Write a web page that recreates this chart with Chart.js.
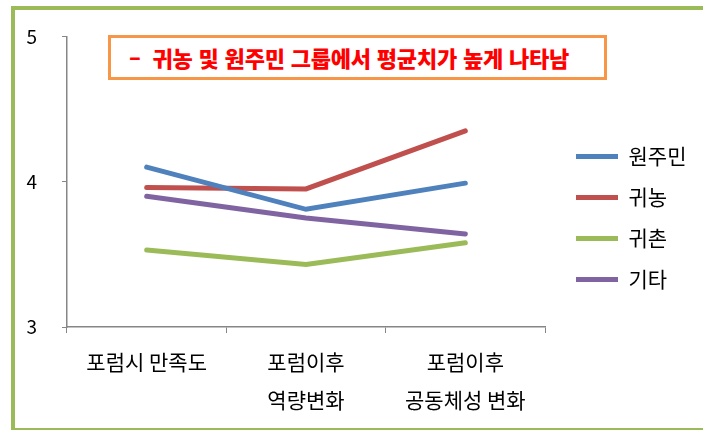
<!DOCTYPE html>
<html lang="ko">
<head>
<meta charset="utf-8">
<script src="https://cdn.jsdelivr.net/npm/chart.js@4"></script>
<style>
    html, body { margin: 0; padding: 0; background: #fff; }
    #wrap { position: relative; width: 703px; height: 430px; overflow: hidden; font-family: "Noto Sans CJK KR", sans-serif; }
    #frame { position: absolute; left: 11px; top: 6px; width: 760px; height: 426px; border: 4px solid #9BBB59; box-sizing: border-box; }
    #chart { position: absolute; left: 0; top: 0; }
    #note {
        position: absolute; left: 108px; top: 35px; width: 499px; height: 45px;
        box-sizing: border-box; border: 3px solid #F79646; background: #fff;
        color: #FF0000; font-weight: 900; font-size: 22px; line-height: 38px;
        padding-left: 18px; letter-spacing: -0.2px; white-space: nowrap;
    }
</style>
</head>
<body>
<div id="wrap">
    <div id="frame"></div>
    <canvas id="chart" width="703" height="430"></canvas>
    <div id="note">–&nbsp; 귀농 및 원주민 그룹에서 평균치가 높게 나타남</div>
</div>
<script>
const categories = ["포럼시 만족도", ["포럼이후", "역량변화"], ["포럼이후", "공동체성 변화"]];
const seriesNames = ["원주민", "귀농", "귀촌", "기타"];
const nativeValues = [4.10, 3.81, 3.99];
const returnFarmValues = [3.96, 3.95, 4.35];
const returnRuralValues = [3.53, 3.43, 3.58];
const otherValues = [3.90, 3.75, 3.64];
const seriesColors = ["#4F81BD", "#C0504D", "#9BBB59", "#8064A2"];
const yTicks = [3, 4, 5];

document.addEventListener("DOMContentLoaded", function () {
    drawChart();
});

/* Keeps the legend a fixed width and nudges it right of the plot area. */
const legendPlacement = {
    id: "legendPlacement",
    beforeUpdate(chart) {
        const legend = chart.legend;
        if (!legend || legend._fixedFit) return;
        const fit = legend.fit;
        legend.fit = function () {
            fit.call(this);
            this.width = 158;
        };
        legend._fixedFit = true;
    },
    afterLayout(chart) {
        chart.legend.left += 11;
    },
};

/* Builds the line chart with the legend on the right. */
function drawChart() {
    const ctx = document.getElementById("chart").getContext("2d");
    const values = [nativeValues, returnFarmValues, returnRuralValues, otherValues];
    const axisColor = "#868686";
    const font = { family: "'Noto Sans CJK KR', sans-serif", size: 21 };

    new Chart(ctx, {
        type: "line",
        data: {
            labels: categories,
            datasets: seriesNames.map((name, i) => ({
                label: name,
                data: values[i],
                borderColor: seriesColors[i],
                backgroundColor: seriesColors[i],
                borderWidth: 5,
                borderCapStyle: "round",
                pointRadius: 0,
                pointStyle: "line",
                tension: 0,
            })),
        },
        plugins: [legendPlacement],
        options: {
            responsive: false,
            animation: false,
            layout: { padding: { top: 14, right: 0, bottom: 8, left: 0 } },
            plugins: {
                tooltip: { enabled: false },
                legend: {
                    position: "right",
                    align: "center",
                    labels: {
                        usePointStyle: true,
                        pointStyleWidth: 42,
                        padding: 20,
                        color: "#000",
                        font: font,
                    },
                },
            },
            scales: {
                x: {
                    offset: true,
                    afterFit: (s) => { s.height = 95; },
                    border: { color: axisColor, width: 1.5 },
                    grid: { display: true, drawOnChartArea: false, drawTicks: true, tickLength: 6, color: axisColor, offset: true },
                    ticks: { color: "#000", font: { ...font, lineHeight: 1.8 }, padding: 10, maxRotation: 0, autoSkip: false },
                },
                y: {
                    min: 3,
                    max: 5,
                    afterFit: (s) => { s.width = 67; },
                    afterBuildTicks: (s) => { s.ticks = yTicks.map((v) => ({ value: v })); },
                    border: { color: axisColor, width: 1.5 },
                    grid: { display: true, drawOnChartArea: false, drawTicks: true, tickLength: 5, color: axisColor },
                    ticks: { color: "#000", font: { ...font, size: 19 }, padding: 25 },
                },
            },
        },
    });
}
</script>
</body>
</html>
